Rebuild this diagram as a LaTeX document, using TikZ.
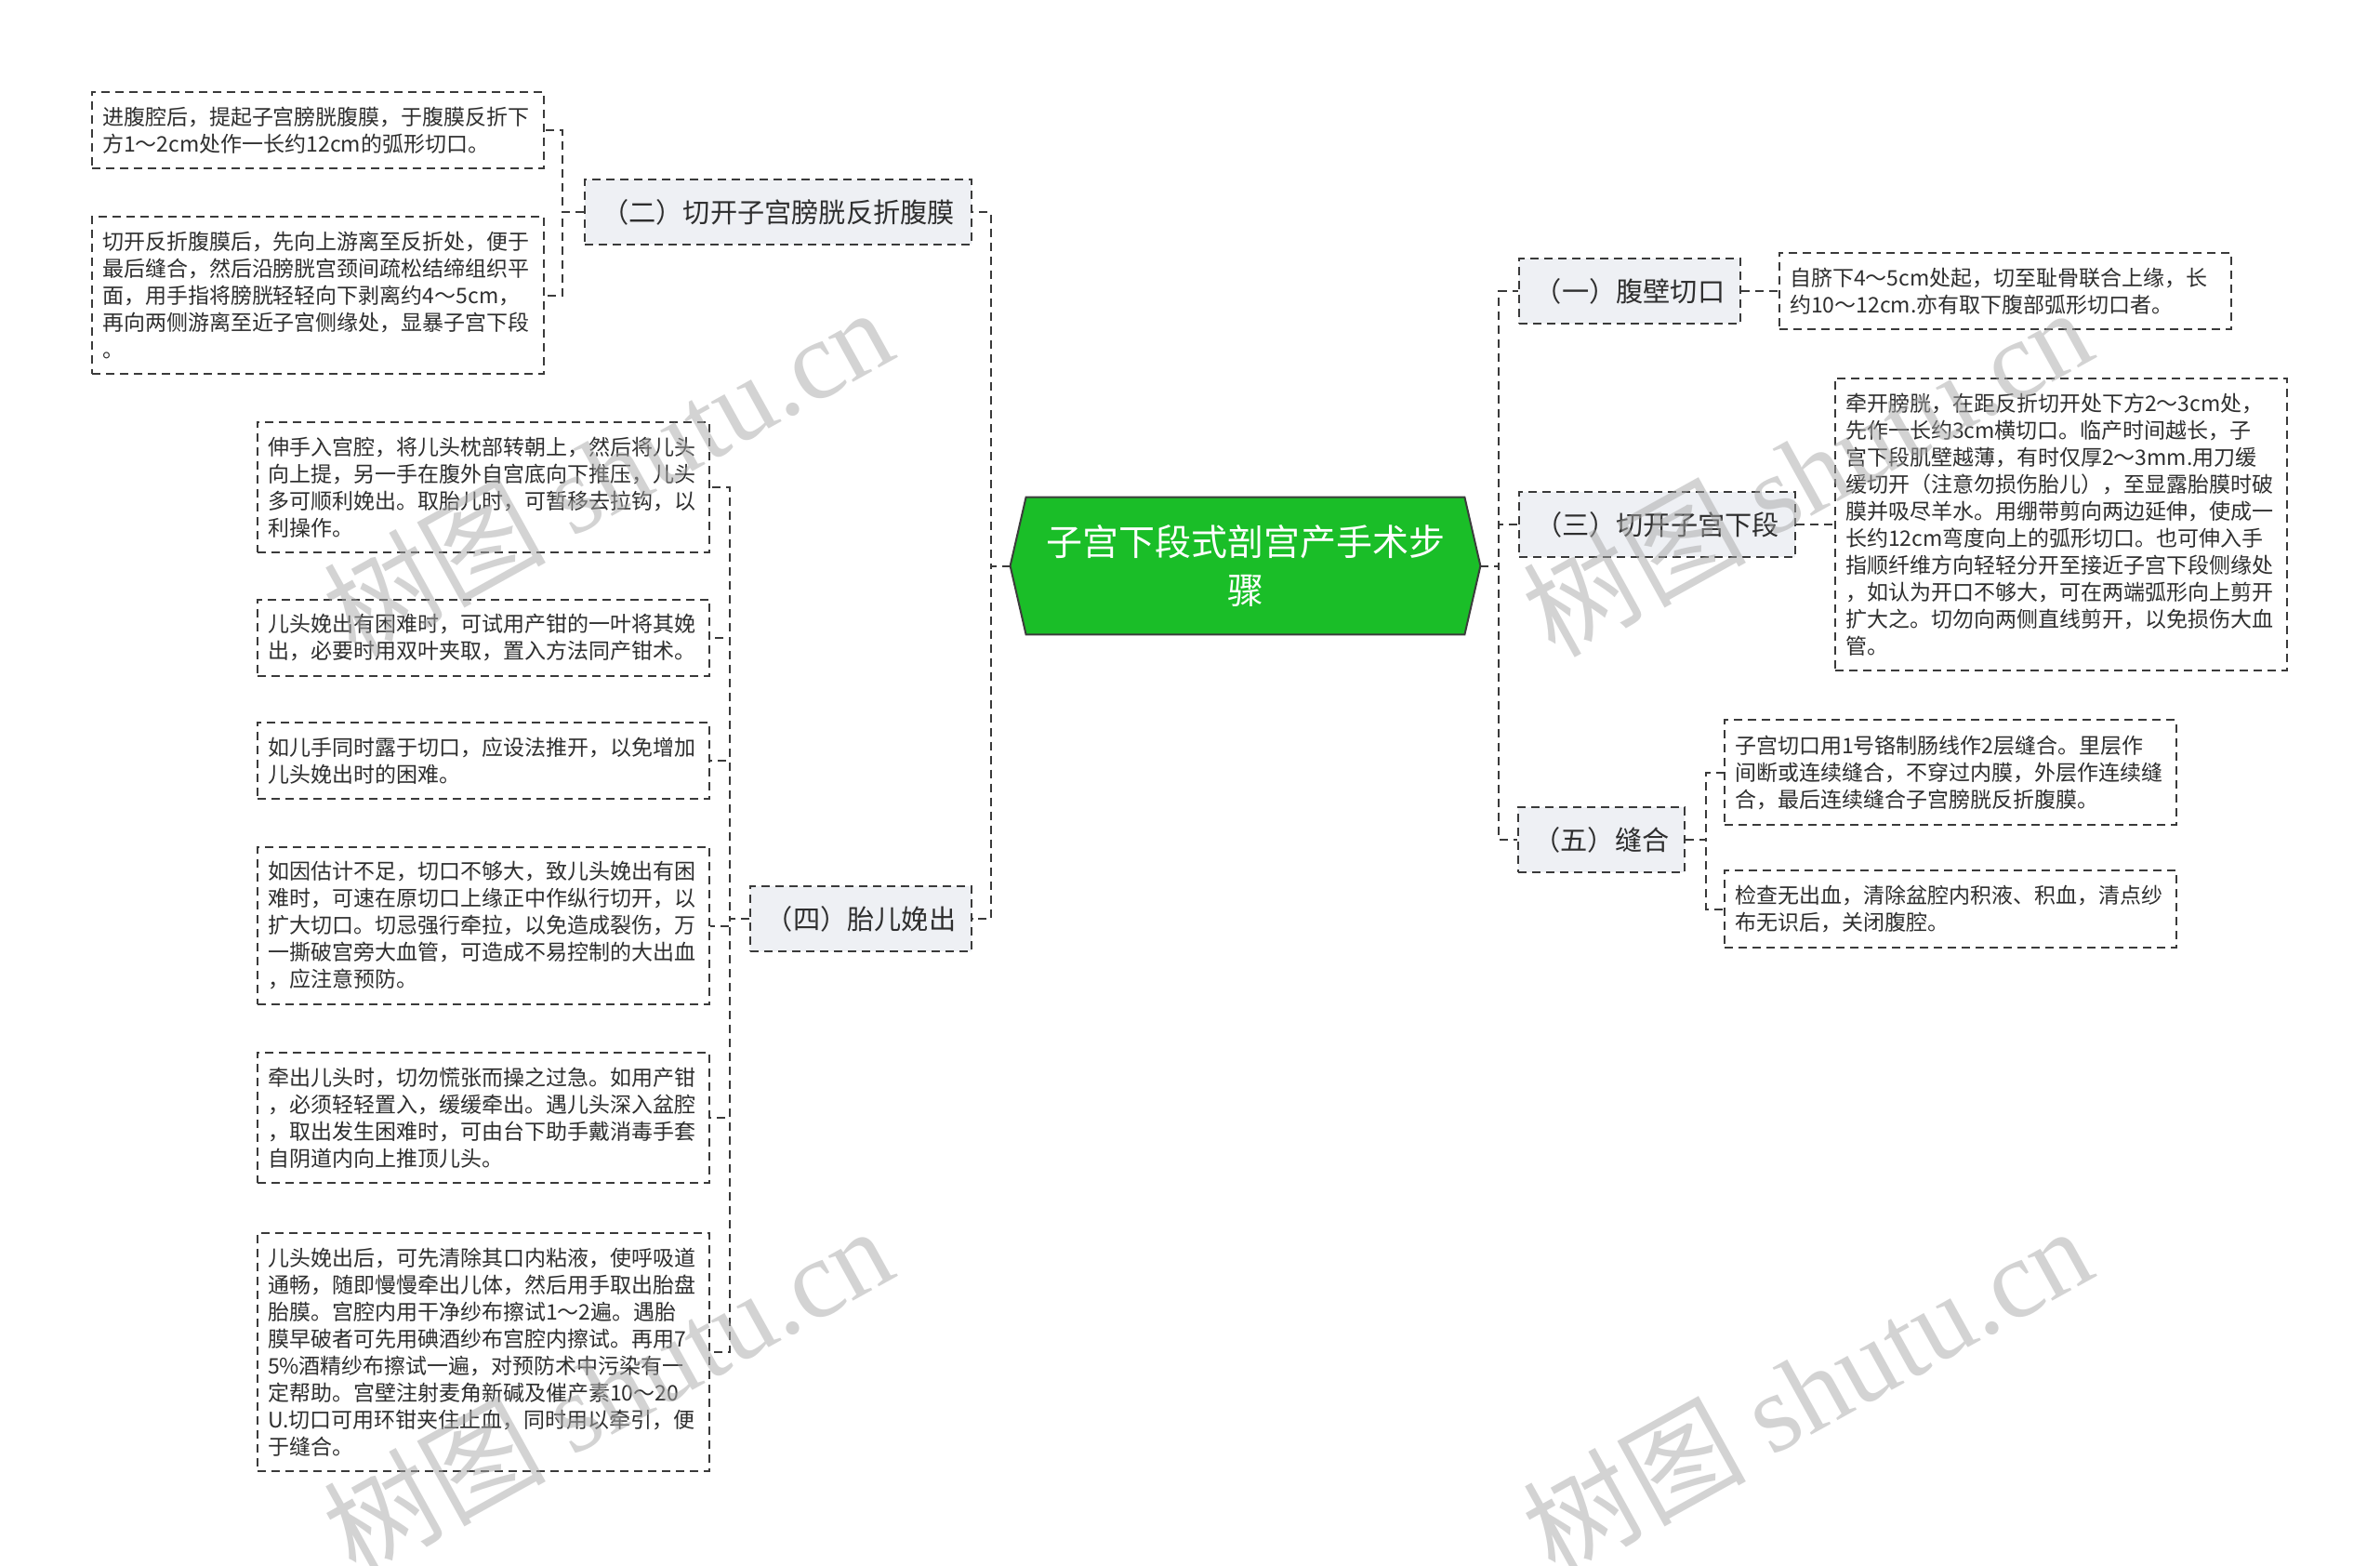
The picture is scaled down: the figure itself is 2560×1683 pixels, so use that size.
\documentclass[tikz,border=0pt]{standalone}
\usepackage{fontspec}
\setmainfont{Noto Sans CJK SC}
\newfontfamily\wmserif{Liberation Serif}
\usetikzlibrary{backgrounds}
\definecolor{linec}{HTML}{3A3A3A}
\definecolor{textc}{HTML}{2E2E2E}
\definecolor{rootfill}{RGB}{26,190,40}
\definecolor{rootline}{HTML}{3C3C3C}
\definecolor{branchfill}{HTML}{EEF0F4}
\definecolor{wmc}{HTML}{A8A8A8}
\tikzset{
  dashline/.style={draw=linec, line width=1pt, dash pattern=on 4.5pt off 3pt},
  conn/.style={dashline},
  leaf/.style={dashline, text width=232pt, inner xsep=5.5pt, inner ysep=8pt, align=left,
    font=\fontsize{11.5}{14.5}\selectfont, text=textc},
  branch/.style={dashline, fill=branchfill, minimum height=35pt, inner sep=0pt,
    font=\fontsize{14.6}{17}\selectfont, text=textc},
  wm/.style={text=wmc, opacity=0.5, font=\fontsize{60}{60}\selectfont, inner sep=0pt},
}
\begin{document}
\begin{tikzpicture}[x=0.5pt, y=-0.5pt]
\useasboundingbox (0,0) rectangle (2560,1683);

% central node
\node (root) [minimum width=235.5pt, minimum height=73.5pt, inner sep=0pt, text=white,
  font=\fontsize{19.5}{26}\selectfont, align=center] at (1339.5,608.5)
  {子宫下段式剖宫产手术步\\骤};
\begin{pgfonlayer}{background}
\filldraw[fill=rootfill, draw=rootline, line width=1pt]
  (root.north west) -- (root.north east) -- ([xshift=8.5pt]root.east)
  -- (root.south east) -- (root.south west) -- ([xshift=-8.5pt]root.west) -- cycle;
\end{pgfonlayer}
\coordinate (rootW) at ([xshift=-8.5pt]root.west);
\coordinate (rootE) at ([xshift=8.5pt]root.east);

% branches
\node (b2) [branch, minimum width=208pt] at (837,228) {（二）切开子宫膀胱反折腹膜};
\node (b4) [branch, minimum width=119pt] at (926,988) {（四）胎儿娩出};
\node (b1) [branch, minimum width=119pt] at (1753,313) {（一）腹壁切口};
\node (b3) [branch, minimum width=148.5pt] at (1782.5,564) {（三）切开子宫下段};
\node (b5) [branch, minimum width=89.5pt] at (1722.5,903) {（五）缝合};

% leaves of (二)
\node (l2a) [leaf] at (342,140) {进腹腔后，提起子宫膀胱腹膜，于腹膜反折下\\方1～2cm处作一长约12cm的弧形切口。};
\node (l2b) [leaf] at (342,317.5) {切开反折腹膜后，先向上游离至反折处，便于\\最后缝合，然后沿膀胱宫颈间疏松结缔组织平\\面，用手指将膀胱轻轻向下剥离约4～5cm，\\再向两侧游离至近子宫侧缘处，显暴子宫下段\\。};

% leaves of (四)
\node (l4a) [leaf] at (520,524) {伸手入宫腔，将儿头枕部转朝上，然后将儿头\\向上提，另一手在腹外自宫底向下推压，儿头\\多可顺利娩出。取胎儿时，可暂移去拉钩，以\\利操作。};
\node (l4b) [leaf] at (520,686) {儿头娩出有困难时，可试用产钳的一叶将其娩\\出，必要时用双叶夹取，置入方法同产钳术。};
\node (l4c) [leaf] at (520,818) {如儿手同时露于切口，应设法推开，以免增加\\儿头娩出时的困难。};
\node (l4d) [leaf] at (520,995.5) {如因估计不足，切口不够大，致儿头娩出有困\\难时，可速在原切口上缘正中作纵行切开，以\\扩大切口。切忌强行牵拉，以免造成裂伤，万\\一撕破宫旁大血管，可造成不易控制的大出血\\，应注意预防。};
\node (l4e) [leaf] at (520,1202) {牵出儿头时，切勿慌张而操之过急。如用产钳\\，必须轻轻置入，缓缓牵出。遇儿头深入盆腔\\，取出发生困难时，可由台下助手戴消毒手套\\自阴道内向上推顶儿头。};
\node (l4f) [leaf] at (520,1454) {儿头娩出后，可先清除其口内粘液，使呼吸道\\通畅，随即慢慢牵出儿体，然后用手取出胎盘\\胎膜。宫腔内用干净纱布擦试1～2遍。遇胎\\膜早破者可先用碘酒纱布宫腔内擦试。再用7\\5\%酒精纱布擦试一遍，对预防术中污染有一\\定帮助。宫壁注射麦角新碱及催产素10～20\\U.切口可用环钳夹住止血，同时用以牵引，便\\于缝合。};

% leaves of right side
\node (l1) [leaf] at (2157,313) {自脐下4～5cm处起，切至耻骨联合上缘，长\\约10～12cm.亦有取下腹部弧形切口者。};
\node (l3) [leaf] at (2217,564) {牵开膀胱，在距反折切开处下方2～3cm处，\\先作一长约3cm横切口。临产时间越长，子\\宫下段肌壁越薄，有时仅厚2～3mm.用刀缓\\缓切开（注意勿损伤胎儿），至显露胎膜时破\\膜并吸尽羊水。用绷带剪向两边延伸，使成一\\长约12cm弯度向上的弧形切口。也可伸入手\\指顺纤维方向轻轻分开至接近子宫下段侧缘处\\，如认为开口不够大，可在两端弧形向上剪开\\扩大之。切勿向两侧直线剪开，以免损伤大血\\管。};
\node (l5a) [leaf] at (2098,830.5) {子宫切口用1号铬制肠线作2层缝合。里层作\\间断或连续缝合，不穿过内膜，外层作连续缝\\合，最后连续缝合子宫膀胱反折腹膜。};
\node (l5b) [leaf] at (2098,977.5) {检查无出血，清除盆腔内积液、积血，清点纱\\布无识后，关闭腹腔。};

% connectors from root
\draw[conn] (rootW) -- ++(-21,0) |- (b2.east);
\draw[conn] (rootW) -- ++(-21,0) |- (b4.east);
\draw[conn] (rootE) -- ++(20,0) |- (b1.west);
\draw[conn] (rootE) -- ++(20,0) |- (b3.west);
\draw[conn] (rootE) -- ++(20,0) |- (b5.west);

% connectors to leaves
\draw[conn] (b2.west) -- ++(-23,0) |- (l2a.east);
\draw[conn] (b2.west) -- ++(-23,0) |- (l2b.east);
\foreach \l in {l4a,l4b,l4c,l4d,l4e,l4f}
  \draw[conn] (b4.west) -- ++(-21,0) |- (\l.east);
\draw[conn] (b1.east) -- (l1.west);
\draw[conn] (b3.east) -- (l3.west);
\draw[conn] (b5.east) -- ++(22,0) |- (l5a.west);
\draw[conn] (b5.east) -- ++(22,0) |- (l5b.west);

% watermarks
\node (wm1) [wm, rotate=29] at (653,506) {树图 {\wmserif shutu.cn}};
\node (wm2) [wm, rotate=29] at (653,1494) {树图 {\wmserif shutu.cn}};
\node (wm3) [wm, rotate=29] at (1943,506) {树图 {\wmserif shutu.cn}};
\node (wm4) [wm, rotate=29] at (1943,1494) {树图 {\wmserif shutu.cn}};
\end{tikzpicture}
\end{document}
